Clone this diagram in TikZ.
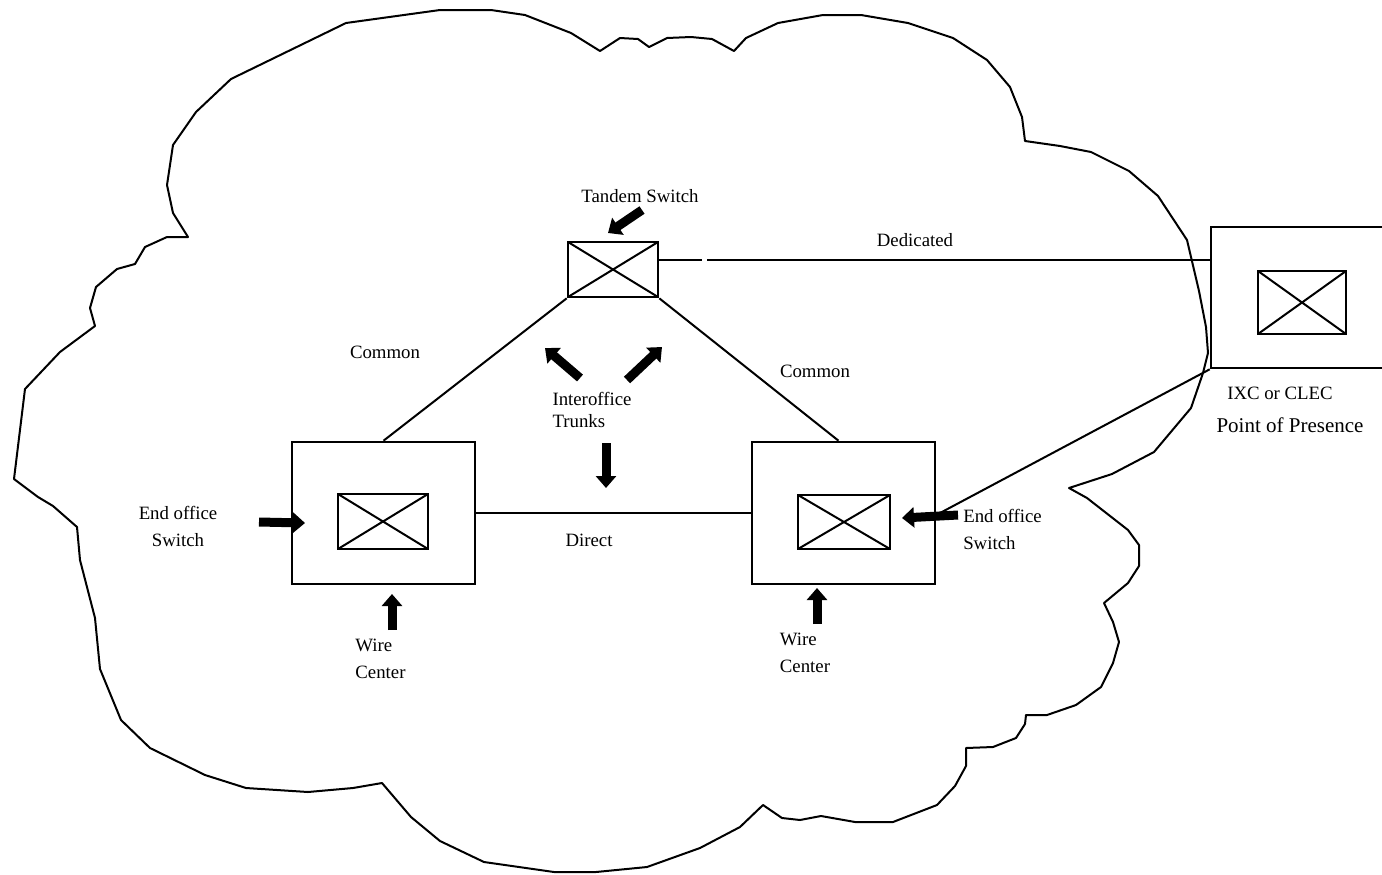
\documentclass[tikz,border=0pt]{standalone}
\usepackage{fontspec}
\setmainfont{Liberation Serif}
\usetikzlibrary{arrows.meta,calc}

\begin{document}
\begin{tikzpicture}[x=0.5pt,y=-0.5pt,
  cloudline/.style={line width=1pt, line join=round},
  wire/.style={line width=1pt},
  office/.style={draw, line width=1.3pt, rectangle, inner sep=0pt},
  switchbox/.style={draw, line width=1.3pt, rectangle, inner sep=0pt,
    path picture={\draw[line width=1pt]
      (path picture bounding box.south west) -- (path picture bounding box.north east)
      (path picture bounding box.north west) -- (path picture bounding box.south east);}},
  pointer/.style={line width=4.5pt, -{Triangle[width=10pt,length=6pt]}},
  lbl/.style={font=\fontsize{9.4}{13.5}\selectfont, inner sep=0pt},
]
\useasboundingbox (0,0) rectangle (1382,874);

% local exchange carrier network cloud
\draw[cloudline] (346,23) -- (440,10) -- (491,10) -- (525,15) -- (571,33) -- (600,51)
  -- (620,38) -- (638,39) -- (649,47) -- (667,38) -- (691,37) -- (712,39) -- (734,51)
  -- (746,38) -- (778,23) -- (823,15) -- (861,15) -- (908,23) -- (953,38) -- (987,60)
  -- (1010,87) -- (1022,117) -- (1025,141) -- (1060,146) -- (1091,152) -- (1129,171)
  -- (1158,196) -- (1187,240) -- (1199,291) -- (1206,327) -- (1208,353) -- (1203,373)
  -- (1191,408) -- (1154,452) -- (1112,474) -- (1069,488) -- (1087,498) -- (1128,530)
  -- (1139,545) -- (1139,566) -- (1128,583) -- (1104,603) -- (1113,622) -- (1119,642)
  -- (1113,663) -- (1101,687) -- (1076,705) -- (1047,715) -- (1026,715) -- (1025,724)
  -- (1016,738) -- (993,747) -- (966,748) -- (966,766) -- (955,786) -- (937,805)
  -- (893,822) -- (855,822) -- (821,816) -- (800,820) -- (782,818) -- (763,805)
  -- (740,827) -- (700,848) -- (647,867) -- (596,872) -- (554,872) -- (484,862)
  -- (440,841) -- (411,817) -- (382,783) -- (353,788) -- (308,792) -- (246,788)
  -- (205,775) -- (150,748) -- (121,720) -- (100,669) -- (95,618) -- (80,560)
  -- (77,527) -- (53,506) -- (38,497) -- (14,479) -- (25,389) -- (60,352) -- (95,326)
  -- (90,308) -- (96,287) -- (117,269) -- (135,264) -- (145,247) -- (167,237)
  -- (188,237) -- (173,213) -- (167,185) -- (173,145) -- (196,112) -- (231,79) -- cycle;

% switches and wire centers
\node[switchbox, minimum width=45pt, minimum height=27.5pt] (tandem) at (613,269.5) {};
\node[office, minimum width=91.5pt, minimum height=71pt] (wcL) at (383.5,513) {};
\node[switchbox, minimum width=45pt, minimum height=27.5pt] (eoL) at (383,521.5) {};
\node[office, minimum width=91.5pt, minimum height=71pt] (wcR) at (843.5,513) {};
\node[switchbox, minimum width=46pt, minimum height=27pt] (eoR) at (844,522) {};
\node[office, minimum width=94.5pt, minimum height=70.5pt] (pop) at (1305.5,297.5) {};
\node[switchbox, minimum width=44pt, minimum height=31.5pt] (popsw) at (1302,302.5) {};

% trunks
\coordinate (gapA) at (702,260);
\coordinate (gapB) at (707,260);
\coordinate (eoRin) at (940,513);
\draw[wire] ([yshift=4.75pt]tandem.east) -- (gapA);
\draw[wire] (gapB) -- (pop.west |- gapB);
\draw[wire] (tandem.south west) -- (wcL.north);
\draw[wire] (tandem.south east) -- ([xshift=-2.5pt]wcR.north);
\draw[wire] (wcL.east) -- (wcR.west);
\draw[wire] (pop.south west) -- (eoRin);

% pointer arrows
\coordinate (pT1) at (642,210);   \coordinate (pT2) at (608,233);
\coordinate (pI1) at (580,378);   \coordinate (pI2) at (545,348);
\coordinate (pJ1) at (627,380);   \coordinate (pJ2) at (662,347);
\coordinate (pD1) at (606,443);   \coordinate (pD2) at (606,488);
\coordinate (pL1) at (259,522);   \coordinate (pL2) at (305,523);
\coordinate (pW1) at (392,630);   \coordinate (pW2) at (392,594);
\coordinate (pV1) at (817,624);   \coordinate (pV2) at (817,588);
\coordinate (pR1) at (958,515);   \coordinate (pR2) at (902,518);
\foreach \a/\b in {pT1/pT2, pI1/pI2, pJ1/pJ2, pD1/pD2, pL1/pL2, pW1/pW2, pV1/pV2, pR1/pR2}
  \draw[pointer] (\a) -- (\b);

% labels
\node[lbl] (tTandem) at (640,196) {Tandem Switch};
\node[lbl] (tDed) at (915,240) {Dedicated};
\node[lbl] (tComL) at (385,352) {Common};
\node[lbl] (tComR) at (815,371) {Common};
\node[lbl, align=left, font=\fontsize{9.4}{11}\selectfont] (tTrunk) at (592,410) {Interoffice\\Trunks};
\node[lbl] (tDirect) at (589,540) {Direct};
\node[lbl, align=center] (tEoL) at (178,526) {End office\\Switch};
\node[lbl, align=left] (tWcL) at (380.5,658.5) {Wire\\Center};
\node[lbl, align=left] (tWcR) at (805,652.5) {Wire\\Center};
\node[lbl, align=left] (tEoR) at (1002.5,529.5) {End office\\Switch};
\node[lbl] (tIxc) at (1280,393) {IXC or CLEC};
\node[lbl, font=\fontsize{10.5}{12}\selectfont] (tPop) at (1290,425) {Point of Presence};
\end{tikzpicture}
\end{document}
